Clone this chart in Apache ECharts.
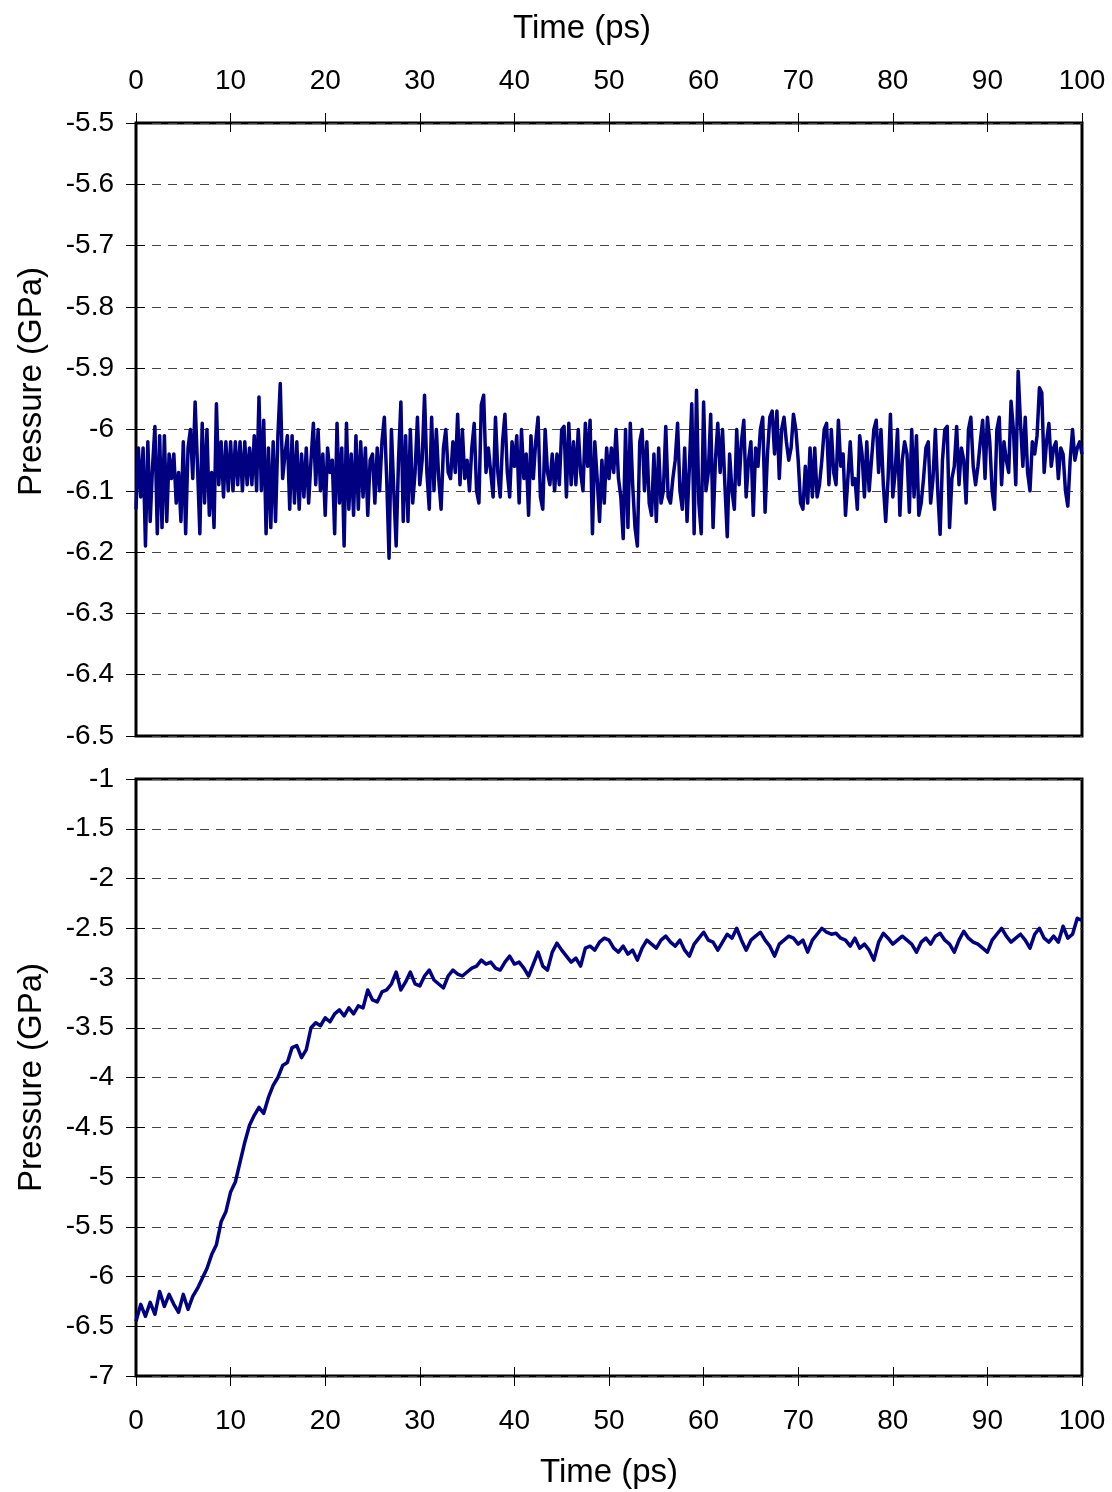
<!DOCTYPE html>
<html>
<head>
<meta charset="utf-8">
<script src="https://cdn.jsdelivr.net/npm/echarts@6/dist/echarts.min.js"></script>
<style>
  html, body { margin: 0; padding: 0; background: #fff; }
  #chart { width: 1112px; height: 1492px; }
</style>
</head>
<body>
<div id="chart"></div>
<script>
// time axis 0..100 ps, values sampled evenly
const timeTicks = [0, 10, 20, 30, 40, 50, 60, 70, 80, 90, 100]

// upper panel: pressure (GPa), 0.25 ps steps
const pressureTop = [
  -6.13, -6.03, -6.11, -6.03, -6.19, -6.02, -6.15, -6.06, -5.995, -6.17,
  -6.01, -6.16, -6.01, -6.15, -6.04, -6.08, -6.04, -6.12, -6.07, -6.15,
  -6.02, -6.17, -6.03, -6.00, -6.08, -5.955, -6.06, -6.17, -5.99, -6.12,
  -6.00, -6.14, -6.07, -6.16, -5.958, -6.09, -6.02, -6.11, -6.02, -6.10,
  -6.02, -6.10, -6.02, -6.09, -6.02, -6.10, -6.02, -6.09, -6.03, -6.09,
  -6.01, -6.10, -5.947, -6.10, -5.985, -6.17, -6.03, -6.16, -6.02, -6.15,
  -6.01, -5.925, -6.08, -6.04, -6.01, -6.13, -6.01, -6.12, -6.02, -6.13,
  -6.04, -6.11, -6.03, -6.12, -6.05, -5.99, -6.09, -6.00, -6.10, -6.04,
  -6.14, -6.03, -6.07, -6.05, -6.17, -5.99, -6.12, -6.03, -6.19, -5.99,
  -6.13, -6.04, -6.14, -6.01, -6.13, -6.02, -6.11, -6.03, -6.14, -6.05,
  -6.04, -6.12, -6.03, -6.10, -6.02, -5.98, -6.08, -6.21, -6.00, -6.10,
  -6.19, -6.05, -5.955, -6.15, -6.01, -6.15, -6.00, -6.12, -6.07, -5.98,
  -6.09, -6.05, -5.944, -6.07, -6.13, -5.98, -6.10, -6.00, -6.08, -6.13,
  -6.03, -6.00, -6.07, -6.08, -6.02, -6.07, -5.975, -6.09, -6.00, -6.08,
  -6.05, -6.10, -6.03, -5.99, -6.10, -6.12, -5.96, -5.944, -6.07, -6.03,
  -6.07, -6.11, -5.98, -6.07, -6.11, -6.02, -5.975, -6.07, -6.11, -6.02,
  -6.06, -6.01, -6.12, -6.00, -6.08, -6.04, -6.14, -6.01, -6.08, -6.02,
  -5.98, -6.11, -6.13, -6.00, -6.07, -6.09, -6.04, -6.10, -6.04, -6.09,
  -6.00, -5.995, -6.11, -5.99, -6.09, -6.02, -6.09, -6.00, -6.07, -6.10,
  -5.99, -6.06, -5.985, -6.17, -6.02, -6.08, -6.15, -6.05, -6.12, -6.03,
  -6.08, -6.03, -6.07, -6.00, -6.08, -6.11, -6.178, -6.00, -6.16, -5.99,
  -6.09, -6.16, -6.19, -6.02, -6.00, -6.10, -6.02, -6.12, -6.14, -6.04,
  -6.15, -6.03, -6.12, -6.10, -5.995, -6.11, -6.12, -6.08, -6.05, -5.99,
  -6.10, -6.13, -6.03, -6.15, -6.06, -5.958, -6.17, -5.936, -6.12, -6.17,
  -5.955, -6.10, -6.07, -5.975, -6.16, -6.05, -5.99, -6.07, -6.00, -6.09,
  -6.175, -6.04, -6.10, -6.13, -6.00, -6.09, -6.02, -5.985, -6.11, -6.05,
  -6.02, -6.14, -6.03, -6.06, -6.00, -5.98, -6.135, -6.04, -5.98, -5.97,
  -6.04, -5.97, -6.08, -6.00, -5.98, -6.02, -6.05, -6.03, -5.975, -6.00,
  -6.05, -6.12, -6.13, -6.06, -6.12, -6.03, -6.11, -6.03, -6.11, -6.09,
  -6.05, -6.00, -5.99, -6.09, -6.00, -6.07, -6.09, -5.985, -6.06, -6.04,
  -6.14, -6.08, -6.02, -6.09, -6.08, -6.13, -6.01, -6.04, -6.11, -6.02,
  -6.10, -6.05, -6.00, -5.985, -6.07, -6.00, -6.09, -6.15, -6.08, -5.975,
  -6.11, -6.07, -6.00, -6.14, -6.05, -6.02, -6.04, -6.135, -6.00, -6.11,
  -6.01, -6.14, -6.12, -6.08, -6.03, -6.02, -6.12, -6.08, -6.00, -6.10,
  -6.171, -6.05, -6.00, -5.995, -6.16, -6.08, -6.06, -5.995, -6.09, -6.03,
  -6.05, -6.12, -6.00, -5.98, -6.06, -6.09, -6.06, -6.02, -5.985, -6.08,
  -5.98, -6.02, -6.10, -6.13, -6.00, -5.98, -6.09, -6.02, -6.05, -6.07,
  -5.954, -6.00, -6.09, -5.905, -5.99, -6.06, -5.98, -6.07, -6.10, -6.02,
  -6.04, -6.01, -5.932, -5.94, -6.07, -6.02, -5.99, -6.06, -6.03, -6.02,
  -6.08, -6.03, -6.04, -6.10, -6.125, -6.05, -6.00, -6.05, -6.03, -6.02,
  -6.04
]

// lower panel: pressure (GPa), 0.5 ps steps
const pressureBottom = [
  -6.45, -6.28, -6.40, -6.26, -6.38, -6.15, -6.30, -6.18, -6.28, -6.36,
  -6.18, -6.33, -6.20, -6.12, -6.02, -5.92, -5.78, -5.68, -5.45, -5.35,
  -5.15, -5.05, -4.85, -4.65, -4.48, -4.38, -4.30, -4.36, -4.20, -4.08,
  -4.00, -3.88, -3.85, -3.70, -3.68, -3.80, -3.72, -3.50, -3.45, -3.48,
  -3.40, -3.44, -3.36, -3.32, -3.38, -3.30, -3.36, -3.28, -3.30, -3.12,
  -3.22, -3.24, -3.14, -3.12, -3.06, -2.94, -3.12, -3.04, -2.94, -3.06,
  -3.08, -2.98, -2.92, -3.02, -3.06, -3.10, -2.98, -2.92, -2.96, -2.98,
  -2.94, -2.90, -2.88, -2.82, -2.86, -2.84, -2.90, -2.92, -2.84, -2.78,
  -2.86, -2.84, -2.90, -2.98, -2.86, -2.74, -2.88, -2.92, -2.74, -2.65,
  -2.72, -2.78, -2.84, -2.80, -2.88, -2.70, -2.68, -2.72, -2.64, -2.60,
  -2.62, -2.70, -2.74, -2.68, -2.76, -2.72, -2.82, -2.70, -2.62, -2.66,
  -2.70, -2.62, -2.58, -2.64, -2.68, -2.62, -2.72, -2.78, -2.66, -2.60,
  -2.54, -2.62, -2.64, -2.72, -2.64, -2.56, -2.60, -2.50, -2.62, -2.72,
  -2.62, -2.58, -2.54, -2.62, -2.68, -2.78, -2.66, -2.62, -2.58, -2.60,
  -2.66, -2.62, -2.74, -2.62, -2.56, -2.50, -2.54, -2.56, -2.55, -2.60,
  -2.62, -2.68, -2.60, -2.70, -2.66, -2.72, -2.82, -2.64, -2.55, -2.60,
  -2.66, -2.62, -2.58, -2.62, -2.66, -2.74, -2.64, -2.60, -2.66, -2.58,
  -2.55, -2.62, -2.66, -2.74, -2.62, -2.53, -2.60, -2.64, -2.66, -2.70,
  -2.74, -2.62, -2.56, -2.50, -2.58, -2.64, -2.60, -2.56, -2.62, -2.70,
  -2.56, -2.50, -2.60, -2.64, -2.58, -2.64, -2.48, -2.60, -2.56, -2.40,
  -2.42
]

const tMax = timeTicks[timeTicks.length - 1]
const withTime = arr => arr.map((v, i) => [i * tMax / (arr.length - 1), v])

const FONT = 'Liberation Sans, Arial, sans-serif'
const lineColor = '#000080'

function xAxes(grid, pos, gap, labelMargin, namePad) {
  const base = { gridIndex: grid, type: 'value', position: pos, min: 0, max: tMax, interval: 10,
    splitLine: { show: false }, axisLine: { show: false } }
  return [
    Object.assign({}, base, {
      name: 'Time (ps)', nameLocation: 'middle', nameGap: gap,
      nameTextStyle: { fontSize: 33, color: '#000', fontFamily: FONT, padding: namePad },
      axisTick: { length: 10, lineStyle: { color: '#000', width: 1 } },
      axisLabel: { margin: labelMargin, fontSize: 28, color: '#000', fontFamily: FONT },
    }),
    Object.assign({}, base, {
      axisTick: { inside: true, length: 9, lineStyle: { color: '#000', width: 1 } },
      axisLabel: { show: false },
    }),
  ]
}

function yAxes(grid, min, max, step, namePad) {
  const base = { gridIndex: grid, type: 'value', position: 'left', min: min, max: max, interval: step,
    axisLine: { show: false } }
  return [
    Object.assign({}, base, {
      name: 'Pressure (GPa)', nameLocation: 'middle', nameRotate: 90, nameGap: 88,
      nameTextStyle: { fontSize: 33, color: '#000', fontFamily: FONT, padding: namePad },
      axisTick: { length: 10, lineStyle: { color: '#000', width: 1 } },
      axisLabel: { margin: 22, fontSize: 28, color: '#000', fontFamily: FONT },
      splitLine: { lineStyle: { color: '#444', width: 1, type: [9, 7] } },
    }),
    Object.assign({}, base, {
      axisTick: { inside: true, length: 9, lineStyle: { color: '#000', width: 1 } },
      axisLabel: { show: false },
      splitLine: { show: false },
    }),
  ]
}

const chart = echarts.init(document.getElementById('chart'), null, { renderer: 'canvas' })
chart.setOption({
  animation: false,
  backgroundColor: '#fff',
  grid: [
    { left: 136, right: 30, top: 123, height: 613, show: true, borderColor: '#000', borderWidth: 3, backgroundColor: 'transparent' },
    { left: 136, right: 30, top: 779, height: 597, show: true, borderColor: '#000', borderWidth: 3, backgroundColor: 'transparent' },
  ],
  xAxis: [
    ...xAxes(0, 'top', 78, 28, [0, 54, 0, 0]),
    ...xAxes(1, 'bottom', 80, 31, [0, 0, 0, 0]),
  ],
  yAxis: [
    ...yAxes(0, -6.5, -5.5, 0.1, [0, 0, 0, 96]),
    ...yAxes(1, -7, -1, 0.5, [0, 0, 0, 0]),
  ],
  series: [
    { type: 'line', xAxisIndex: 0, yAxisIndex: 0, data: withTime(pressureTop),
      showSymbol: false, lineStyle: { color: lineColor, width: 3.5, join: 'round' } },
    { type: 'line', xAxisIndex: 2, yAxisIndex: 2, data: withTime(pressureBottom),
      showSymbol: false, lineStyle: { color: lineColor, width: 3.5, join: 'round' } },
  ],
})
</script>
</body>
</html>
